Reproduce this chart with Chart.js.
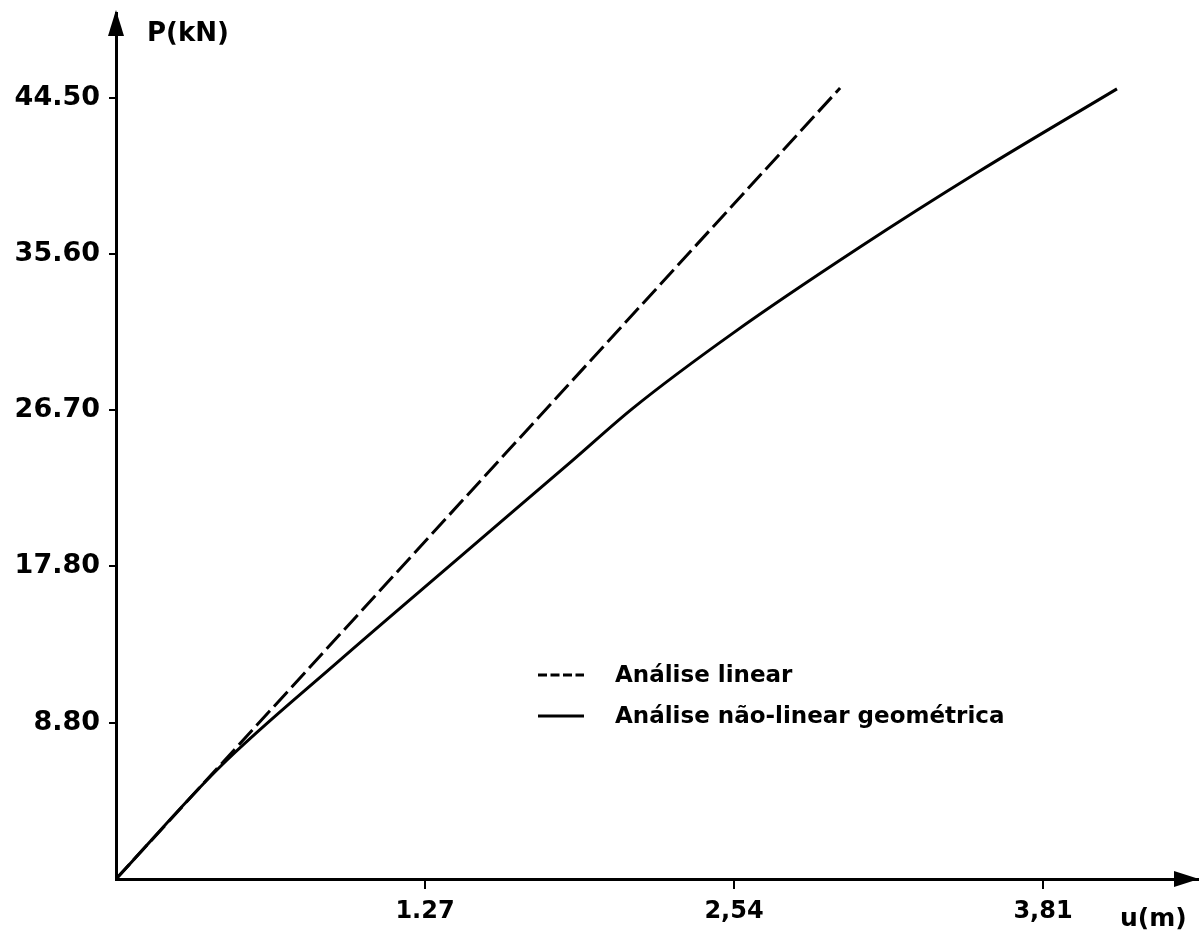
<!DOCTYPE html>
<html><head><meta charset="utf-8">
<script src="https://cdn.jsdelivr.net/npm/chart.js@4"></script>
<style>html,body{margin:0;padding:0;background:#fff}#wrap{width:1200px;height:932px}</style>
</head><body><div id="wrap"><canvas id="c" width="1200" height="932"></canvas></div>
<script>
// ---- data ----
const yTickValues = [8.9, 17.8, 26.7, 35.6, 44.5];
const yTickLabels = ["8.80", "17.80", "26.70", "35.60", "44.50"];
const xTickValues = [1.27, 2.54, 3.81];
const xTickLabels = ["1.27", "2,54", "3,81"];
const linearU = [0, 2.976];
const linearP = [0, 45.05];
const nonlinearU = [0, 0.427, 0.912, 1.414, 1.878, 2.125, 2.536, 3.058, 3.543, 4.114];
const nonlinearP = [0, 6.38, 12.36, 18.34, 23.86, 26.82, 31.09, 35.99, 40.26, 45.00];
const seriesLabels = ["Análise linear", "Análise não-linear geométrica"];
const axisTitleY = "P(kN)";
const axisTitleX = "u(m)";

const FONT = "'DejaVu Sans', sans-serif";

const toPts = (xs, ys) => xs.map((x, i) => ({x: x, y: ys[i]}));

const decorPlugin = {
  id: 'decor',
  afterDraw(chart) {
    const ctx = chart.ctx;
    const a = chart.chartArea;
    ctx.save();
    ctx.fillStyle = '#000';
    ctx.strokeStyle = '#000';
    // arrowheads
    ctx.beginPath();
    ctx.moveTo(a.left, a.top - 3);
    ctx.lineTo(a.left - 8, a.top + 23);
    ctx.lineTo(a.left + 8, a.top + 23);
    ctx.closePath();
    ctx.fill();
    ctx.beginPath();
    ctx.moveTo(a.right + 1, a.bottom);
    ctx.lineTo(a.right - 24, a.bottom - 8);
    ctx.lineTo(a.right - 24, a.bottom + 8);
    ctx.closePath();
    ctx.fill();
    // axis titles
    ctx.font = "bold 26px " + FONT;
    ctx.textAlign = 'left';
    ctx.textBaseline = 'alphabetic';
    ctx.fillText(axisTitleY, a.left + 31, 41);
    ctx.font = "bold 25px " + FONT;
    ctx.fillText(axisTitleX, 1120, 926);
    // legend
    const ds = chart.data.datasets;
    const lx0 = 538, lx1 = 584, tx = 615;
    const rows = [{ly: 675, ty: 682}, {ly: 716, ty: 723}];
    ds.forEach((d, i) => {
      ctx.save();
      ctx.lineWidth = 3;
      ctx.setLineDash(i === 0 ? [9, 3.5] : []);
      ctx.beginPath();
      ctx.moveTo(lx0, rows[i].ly);
      ctx.lineTo(lx1, rows[i].ly);
      ctx.stroke();
      ctx.restore();
      ctx.font = "bold 23px " + FONT;
      ctx.fillText(d.label, tx, rows[i].ty);
    });
    ctx.restore();
  }
};

new Chart(document.getElementById('c'), {
  type: 'line',
  data: {
    datasets: [
      {
        label: seriesLabels[0],
        data: toPts(linearU, linearP),
        borderColor: '#000',
        borderWidth: 3,
        borderDash: [20, 6],
        pointRadius: 0,
        fill: false
      },
      {
        label: seriesLabels[1],
        data: toPts(nonlinearU, nonlinearP),
        borderColor: '#000',
        borderWidth: 3,
        cubicInterpolationMode: 'monotone',
        pointRadius: 0,
        fill: false
      }
    ]
  },
  options: {
    responsive: false,
    animation: false,
    devicePixelRatio: 1,
    layout: {padding: {top: 13, right: 2, left: 0, bottom: 0}},
    plugins: {legend: {display: false}, tooltip: {enabled: false}},
    scales: {
      x: {
        type: 'linear',
        min: 0,
        max: 4.447,
        afterFit(s) { s.height = 53; s.paddingLeft = 0; s.paddingRight = 0; },
        afterBuildTicks(s) { s.ticks = xTickValues.map(v => ({value: v})); },
        border: {display: true, color: '#000', width: 3},
        grid: {display: true, drawOnChartArea: false, drawTicks: true, tickLength: 10, color: '#000', lineWidth: 2},
        ticks: {
          autoSkip: false, maxRotation: 0, padding: 8, color: '#000',
          font: {family: FONT, size: 24, weight: 'bold'},
          callback: (v) => xTickLabels[xTickValues.indexOf(v)]
        }
      },
      y: {
        type: 'linear',
        min: 0,
        max: 49.32,
        afterFit(s) { s.width = 116; s.paddingTop = 0; s.paddingBottom = 0; },
        afterBuildTicks(s) { s.ticks = yTickValues.map(v => ({value: v})); },
        border: {display: true, color: '#000', width: 3},
        grid: {display: true, drawOnChartArea: false, drawTicks: true, tickLength: 7, color: '#000', lineWidth: 2},
        ticks: {
          autoSkip: false, padding: 9, color: '#000',
          font: {family: FONT, size: 27, weight: 'bold'},
          callback: (v) => yTickLabels[yTickValues.indexOf(v)]
        }
      }
    }
  },
  plugins: [decorPlugin]
});
</script>
</body></html>
